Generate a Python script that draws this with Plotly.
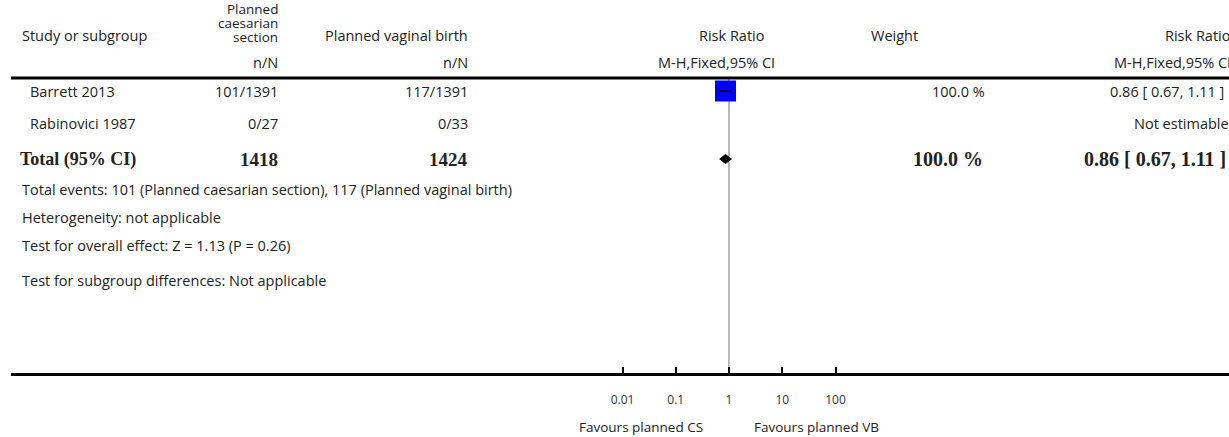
import plotly.graph_objects as go

# ---------------- data ----------------
studies = ["Barrett 2013", "Rabinovici 1987"]
cs_events = [101, 0]
cs_total = [1391, 27]
vb_events = [117, 0]
vb_total = [1391, 33]
rr = [0.86, None]
rr_lo = [0.67, None]
rr_hi = [1.11, None]
weights = [100.0, None]

total_cs = 1418
total_vb = 1424
total_rr = 0.86
total_lo = 0.67
total_hi = 1.11
total_weight = 100.0
total_cs_events = 101
total_vb_events = 117

tick_vals = [0.01, 0.1, 1, 10, 100]
tick_text = ["0.01", "0.1", "1", "10", "100"]

footer_lines = [
    f"Total events: {total_cs_events} (Planned caesarian section), {total_vb_events} (Planned vaginal birth)",
    "Heterogeneity: not applicable",
    "Test for overall effect: Z = 1.13 (P = 0.26)",
    "Test for subgroup differences: Not applicable",
]

# ---------------- layout constants ----------------
W, H = 1229, 437
AXIS_Y = 373
HEADER_LINE_Y = 78
CENTER_PX = 729
DECADE_PX = 53.25
LEFT_PX = 11
r0 = (LEFT_PX - CENTER_PX) / DECADE_PX
r1 = (W - CENTER_PX) / DECADE_PX

SANS = "'Open Sans', Lato, sans-serif"
SERIF = "'Liberation Serif', 'Times New Roman', serif"
TXT = "#222222"
FS = 14.5
FB = 19

row_y = [91, 124]
total_y = 159
footer_y = [190, 218, 246, 280]

COL_STUDY = 28
COL_CS = 280
COL_VB = 470
COL_W = 987
COL_RR = 1226

fig = go.Figure()
annotations = []


def txt(text, x, y, anchor="left", size=FS, family=SANS, bold=False):
    t = f"<b>{text}</b>" if bold else text
    annotations.append(dict(
        text=t, x=x / W, y=1 - y / H, xref="paper", yref="paper",
        xanchor=anchor, yanchor="middle", showarrow=False,
        font=dict(family=family, size=size, color=TXT),
    ))


# headers
txt("Study or subgroup", 20, 36)
txt("Planned", COL_CS, 9.5, "right", size=13.5)
txt("caesarian", COL_CS, 23, "right", size=13.5)
txt("section", COL_CS, 36.5, "right", size=13.5)
txt("n/N", COL_CS, 63, "right")
txt("Planned vaginal birth", COL_VB, 36, "right")
txt("n/N", COL_VB, 63, "right")
txt("Risk Ratio", 731, 36, "center")
txt("M-H,Fixed,95% CI", 716, 63, "center")
txt("Weight", 920, 36, "right")
txt("Risk Ratio", 1232, 36, "right")
txt("M-H,Fixed,95% CI", 1233, 63, "right")

# study rows
for i, s in enumerate(studies):
    y = row_y[i]
    txt(s, COL_STUDY, y)
    txt(f"{cs_events[i]}/{cs_total[i]}", COL_CS, y, "right")
    txt(f"{vb_events[i]}/{vb_total[i]}", COL_VB, y, "right")
    if rr[i] is not None:
        txt(f"{weights[i]:.1f} %", COL_W, y, "right")
        txt(f"{rr[i]:.2f} [ {rr_lo[i]:.2f}, {rr_hi[i]:.2f} ]", COL_RR, y, "right")
    else:
        txt("Not estimable", 1231, y, "right")

# total row
txt("Total (95% CI)", 18, total_y, size=18, family=SERIF, bold=True)
txt(str(total_cs), COL_CS, total_y, "right", size=FB, family=SERIF, bold=True)
txt(str(total_vb), COL_VB, total_y, "right", size=FB, family=SERIF, bold=True)
txt(f"{total_weight:.1f} %", 985, total_y, "right", size=20, family=SERIF, bold=True)
txt(f"{total_rr:.2f} [ {total_lo:.2f}, {total_hi:.2f} ]", 1228, total_y, "right",
    size=20, family=SERIF, bold=True)

for line, y in zip(footer_lines, footer_y):
    txt(line, 20, y)

txt("Favours planned CS", 705, 427, "right", size=13.5)
txt("Favours planned VB", 752, 427, "left", size=13.5)

# study squares + CIs
for i in range(len(studies)):
    if rr[i] is None:
        continue
    fig.add_trace(go.Scatter(
        x=[rr[i]], y=[row_y[i]], mode="markers",
        marker=dict(symbol="square", size=21, color="#0000ff", line=dict(width=0)),
        hoverinfo="skip", showlegend=False))
    fig.add_trace(go.Scatter(
        x=[rr_lo[i], rr_hi[i]], y=[row_y[i], row_y[i]], mode="lines",
        line=dict(color="black", width=1.5), hoverinfo="skip", showlegend=False))

# total diamond
dh = 4.5
fig.add_trace(go.Scatter(
    x=[total_lo, total_rr, total_hi, total_rr, total_lo],
    y=[total_y, total_y - dh, total_y, total_y + dh, total_y],
    mode="lines", fill="toself", fillcolor="black",
    line=dict(color="black", width=1), hoverinfo="skip", showlegend=False))

shapes = [
    dict(type="line", xref="x", yref="y", x0=1, x1=1, y0=HEADER_LINE_Y, y1=AXIS_Y,
         line=dict(color="#a0a0a0", width=1.5), layer="below"),
    dict(type="line", xref="paper", yref="y", x0=LEFT_PX / W, x1=1,
         y0=HEADER_LINE_Y, y1=HEADER_LINE_Y, line=dict(color="black", width=3)),
]

fig.update_layout(
    width=W, height=H,
    margin=dict(l=0, r=0, t=0, b=0),
    paper_bgcolor="white", plot_bgcolor="white",
    showlegend=False,
    annotations=annotations,
    shapes=shapes,
    xaxis=dict(
        type="log", range=[r0, r1], domain=[LEFT_PX / W, 1],
        showgrid=False, zeroline=False,
        showline=True, linecolor="black", linewidth=3,
        ticks="inside", ticklen=6, tickwidth=2, tickcolor="black",
        tickvals=tick_vals, ticktext=tick_text,
        tickfont=dict(family=SANS, size=12, color="#333333"),
        ticklabelstandoff=14,
        fixedrange=True,
    ),
    yaxis=dict(
        range=[AXIS_Y, 0], domain=[(H - AXIS_Y) / H, 1],
        visible=False, fixedrange=True,
    ),
)

fig.write_html(
    "out.html",
    config={"displayModeBar": False},
    post_script="document.body.style.margin='0';document.body.style.overflow='hidden';",
)
